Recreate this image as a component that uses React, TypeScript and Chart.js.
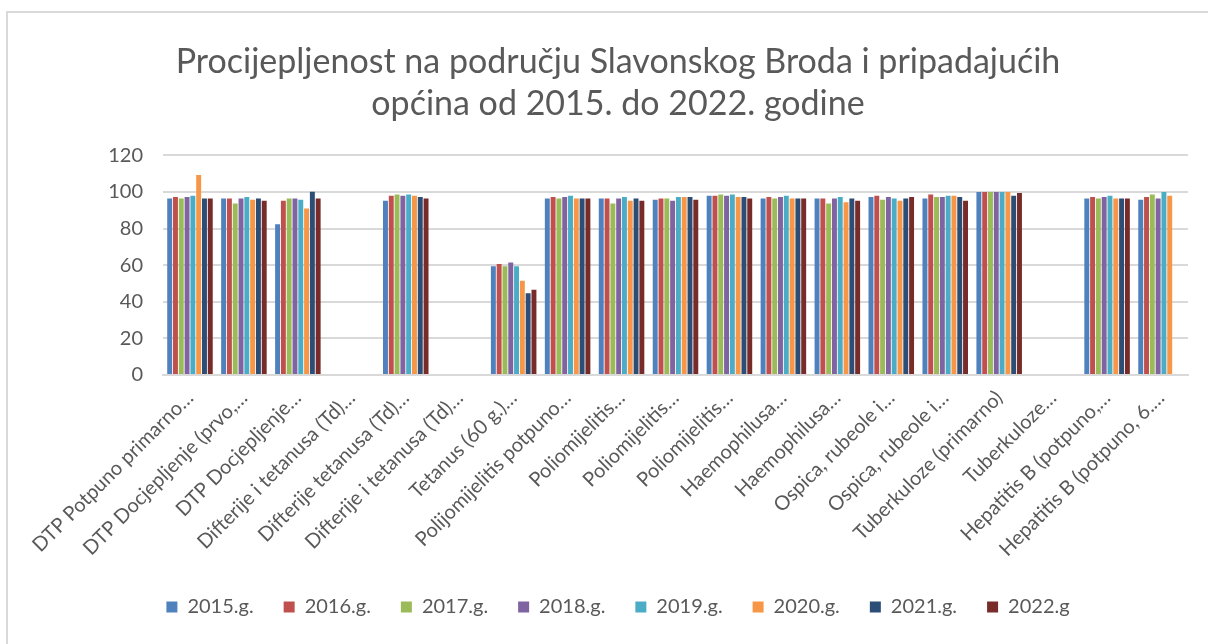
import React, { useEffect, useRef } from "react";
import { Chart, registerables } from "chart.js";

Chart.register(...registerables);

const categories = [
  "DTP Potpuno primarno…",
  "DTP Docjepljenje (prvo,…",
  "DTP Docjepljenje…",
  "Difterije i tetanusa (Td)…",
  "Difterije tetanusa (Td)…",
  "Difterije i tetanusa (Td)…",
  "Tetanus (60 g.)…",
  "Polijomijelitis potpuno…",
  "Poliomijelitis…",
  "Poliomijelitis…",
  "Poliomijelitis…",
  "Haemophilusa…",
  "Haemophilusa…",
  "Ospica, rubeole i…",
  "Ospica, rubeole i…",
  "Tuberkuloze (primarno)",
  "Tuberkuloze…",
  "Hepatitis B (potpuno,…",
  "Hepatitis B (potpuno, 6.…",
];

const seriesNames = ["2015.g.", "2016.g.", "2017.g.", "2018.g.", "2019.g.", "2020.g.", "2021.g.", "2022.g"];
const seriesColors = ["#4F81BD", "#C0504D", "#9BBB59", "#8064A2", "#4BACC6", "#F79646", "#2C4D75", "#772C2A"];

const v2015 = [96.4, 96.4, 82.4, null, 95.2, null, 59.4, 96.4, 96.4, 95.7, 97.9, 96.4, 96.4, 97.2, 96.4, 100, null, 96.4, 95.7];
const v2016 = [97.2, 96.4, 95.2, null, 97.9, null, 60.6, 97.2, 96.4, 96.4, 97.9, 97.2, 96.4, 97.9, 98.6, 100, null, 97.2, 97.2];
const v2017 = [96.4, 93.7, 96.4, null, 98.6, null, 59.4, 96.4, 93.7, 96.4, 98.6, 96.4, 93.7, 95.7, 97.2, 100, null, 96.4, 98.6];
const v2018 = [97.2, 96.4, 96.4, null, 97.9, null, 61.4, 97.2, 96.4, 95.2, 97.9, 97.2, 96.4, 97.2, 97.2, 100, null, 97.2, 96.4];
const v2019 = [97.9, 97.2, 95.7, null, 98.6, null, 59.4, 97.9, 97.2, 97.2, 98.6, 97.9, 97.2, 96.4, 97.9, 100, null, 97.9, 100];
const v2020 = [109.2, 95.7, 90.9, null, 97.9, null, 51.5, 96.4, 95.2, 97.2, 97.2, 96.4, 94.4, 95.2, 97.9, 100, null, 96.4, 97.9];
const v2021 = [96.4, 96.4, 100.1, null, 97.2, null, 44.6, 96.4, 96.4, 97.2, 97.2, 96.4, 96.4, 96.4, 97.2, 97.9, null, 96.4, null];
const v2022 = [96.4, 95.2, 96.4, null, 96.4, null, 46.6, 96.4, 95.2, 95.7, 96.4, 96.4, 95.2, 97.2, 95.2, 99.4, null, 96.4, null];

const seriesValues = [v2015, v2016, v2017, v2018, v2019, v2020, v2021, v2022];
const yTicks = [0, 20, 40, 60, 80, 100, 120];

const titleLines = ["Procijepljenost na području Slavonskog Broda i pripadajućih", "općina od 2015. do 2022. godine"];

const FONT = "Lato, 'Open Sans', sans-serif";
const GRAY = "#595959";

export default function App() {
  const ref = useRef<HTMLCanvasElement | null>(null);

  useEffect(() => {
    if (!ref.current) return;
    const chart = new Chart(ref.current, {
      type: "bar",
      data: {
        labels: categories,
        datasets: seriesValues.map((vals, i) => ({
          label: seriesNames[i],
          data: vals,
          backgroundColor: seriesColors[i],
          borderWidth: 0,
          categoryPercentage: 0.86,
          barPercentage: 0.85,
        })),
      },
      options: {
        animation: false,
        responsive: false,
        maintainAspectRatio: false,
        layout: { padding: { left: 48, right: 20, top: 0, bottom: 17 } },
        plugins: {
          title: {
            display: true,
            text: titleLines,
            color: GRAY,
            font: { family: FONT, size: 34, weight: "normal", lineHeight: 1.24 },
            padding: { top: 41, bottom: 30 },
          },
          legend: {
            display: true,
            position: "bottom",
            labels: {
              color: GRAY,
              font: { family: FONT, size: 20 },
              boxWidth: 11,
              boxHeight: 11,
              padding: 30,
            },
          },
          tooltip: { enabled: false },
        },
        scales: {
          x: {
            grid: { display: false },
            border: { display: true, color: "#d9d9d9", width: 2 },
            ticks: {
              color: GRAY,
              font: { family: FONT, size: 20 },
              minRotation: 45,
              maxRotation: 45,
              autoSkip: false,
            },
            afterFit: (scale: any) => {
              scale.height = 192;
            },
          },
          y: {
            min: 0,
            max: 120,
            afterBuildTicks: (scale: any) => {
              scale.ticks = yTicks.map((v) => ({ value: v }));
            },
            grid: { color: "#d9d9d9", lineWidth: 2, drawTicks: false },
            border: { display: false },
            ticks: {
              color: GRAY,
              font: { family: FONT, size: 20 },
              padding: 20,
            },
            afterFit: (scale: any) => {
              scale.width = 115;
            },
          },
        },
      },
    });
    return () => chart.destroy();
  }, []);

  return (
    <div style={{ position: "fixed", left: 0, top: 0, width: 1208, height: 644, overflow: "hidden", background: "#fff" }}>
      <div
        style={{
          position: "absolute",
          left: 6,
          top: 11,
          width: 1400,
          height: 800,
          borderLeft: "2px solid #d9d9d9",
          borderTop: "2px solid #d9d9d9",
        }}
      />
      <canvas ref={ref} width={1208} height={644} style={{ position: "absolute", left: 0, top: 0, width: 1208, height: 644 }} />
    </div>
  );
}
